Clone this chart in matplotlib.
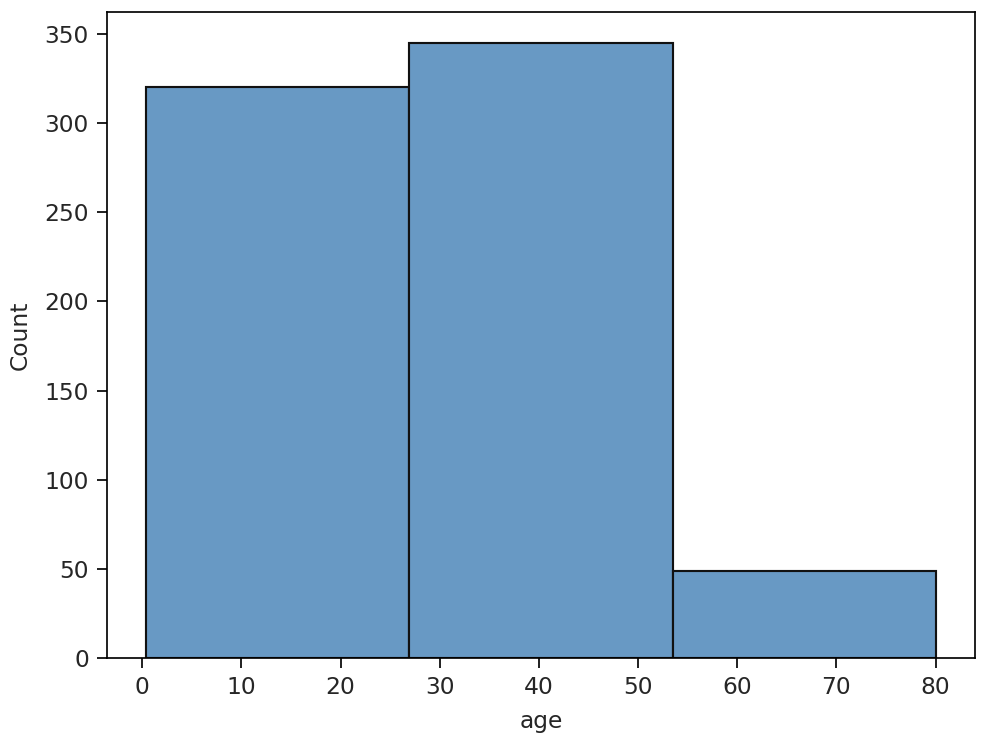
import numpy as np
import matplotlib
matplotlib.use("Agg")
import matplotlib.pyplot as plt

# age histogram, 3 bins between min and max age
age_min = 0.42
age_max = 80.0
counts = [320, 345, 49]

edges = np.linspace(age_min, age_max, len(counts) + 1)
widths = np.diff(edges)

plt.rcParams["font.size"] = 11

dpi = 153.4
fig = plt.figure(figsize=(982 / dpi, 743 / dpi), dpi=dpi)
ax = fig.add_axes([107 / 982, 1 - 658 / 743, (975 - 107) / 982, (658 - 12) / 743])

ax.bar(edges[:-1], counts, width=widths, align="edge",
       color="#6899c4", edgecolor="#111111", linewidth=1)

ax.set_xlabel("age", color="#262626", labelpad=5)
ax.set_ylabel("Count", color="#262626", labelpad=6)
ax.set_xticks(np.arange(0, 81, 10))
ax.set_yticks(np.arange(0, 351, 50))
ax.tick_params(labelcolor="#262626", length=4.5, pad=4)

fig.savefig("out.png", dpi=dpi)
